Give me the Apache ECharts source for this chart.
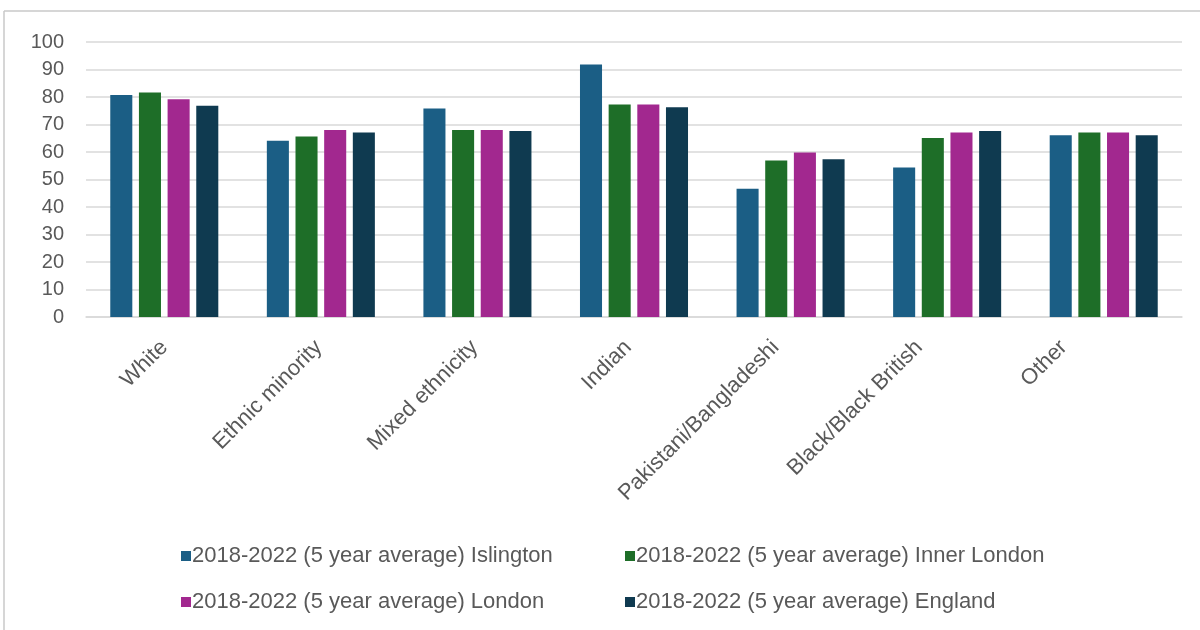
<!DOCTYPE html>
<html>
<head>
<meta charset="utf-8">
<script src="https://cdn.jsdelivr.net/npm/echarts@6/dist/echarts.min.js"></script>
<style>
  html, body { margin: 0; padding: 0; background: #ffffff; }
  #chart { width: 1200px; height: 630px; }
</style>
</head>
<body>
<div id="chart"></div>
<script>
// Ethnic groups along the x axis
const categories = ['White', 'Ethnic minority', 'Mixed ethnicity', 'Indian',
  'Pakistani/Bangladeshi', 'Black/Black British', 'Other'];

// Series names
const seriesNames = [
  '2018-2022 (5 year average) Islington',
  '2018-2022 (5 year average) Inner London',
  '2018-2022 (5 year average) London',
  '2018-2022 (5 year average) England'
];

// Values per area
const islington   = [80.7, 64.1, 75.8, 91.8, 46.6, 54.4, 66.1];
const innerLondon = [81.6, 65.6, 68.0, 77.3, 56.9, 65.1, 67.1];
const london      = [79.2, 68.0, 68.0, 77.3, 59.8, 67.1, 67.1];
const england     = [76.8, 67.1, 67.6, 76.3, 57.4, 67.6, 66.1];

// Y axis ticks
const yMin = 0, yMax = 100, yStep = 10;

const colors = ['#1b5e85', '#1e6e28', '#a2288f', '#0f3a50'];
const seriesValues = [islington, innerLondon, london, england];

const textColor = '#595959';
const fontFamily = '"Liberation Sans", Arial, sans-serif';

// Leftward nudge (px) of each slanted category label from its tick
const labelNudge = [0, 2, 3, 6, 15, 28, 40];
const labelMargin = 27;

const legendText = { color: textColor, fontSize: 22, fontFamily: fontFamily, padding: [0, 0, 0, -4] };

const frameLines = [
  { id: 'frameTop', type: 'line', shape: { x1: 4, y1: 11, x2: 1200, y2: 11 },
    style: { stroke: '#c8c8c8', lineWidth: 1.5 } },
  { id: 'frameLeft', type: 'line', shape: { x1: 4, y1: 11, x2: 4, y2: 630 },
    style: { stroke: '#c8c8c8', lineWidth: 1.5 } }
];

const chart = echarts.init(document.getElementById('chart'));

chart.setOption({
  animation: false,
  backgroundColor: '#ffffff',
  color: colors,
  graphic: frameLines,
  grid: { left: 86, right: 18, top: 42, bottom: 313, containLabel: false },
  legend: [
    {
      data: [seriesNames[0], seriesNames[2]],
      orient: 'vertical',
      left: 176, top: 540,
      itemWidth: 10, itemHeight: 10, itemGap: 24,
      icon: 'rect',
      textStyle: legendText
    },
    {
      data: [seriesNames[1], seriesNames[3]],
      orient: 'vertical',
      left: 620, top: 540,
      itemWidth: 10, itemHeight: 10, itemGap: 24,
      icon: 'rect',
      textStyle: legendText
    }
  ],
  xAxis: {
    type: 'category',
    data: categories,
    axisLine: { show: true, lineStyle: { color: '#d9d9d9', width: 1.5 } },
    axisTick: { show: false },
    axisLabel: { show: false }
  },
  yAxis: {
    type: 'value',
    min: yMin, max: yMax, interval: yStep,
    axisLine: { show: false },
    axisTick: { show: false },
    axisLabel: {
      color: textColor,
      fontSize: 20,
      margin: 22,
      fontFamily: fontFamily
    },
    splitLine: { lineStyle: { color: '#d9d9d9', width: 1.5 } }
  },
  series: seriesNames.map((name, i) => ({
    name: name,
    type: 'bar',
    data: seriesValues[i],
    barGap: '30%',
    barCategoryGap: '31%',
    itemStyle: { color: colors[i] }
  }))
});

// Slanted category labels, anchored at each category's position on the axis
const axisY = chart.convertToPixel({ yAxisIndex: 0 }, yMin);
const categoryLabels = categories.map((c, i) => ({
  id: 'cat' + i,
  type: 'text',
  x: chart.convertToPixel({ xAxisIndex: 0 }, c) - labelNudge[i],
  y: axisY + labelMargin,
  rotation: Math.PI / 4,
  style: {
    text: c,
    fill: textColor,
    fontSize: 22,
    fontFamily: fontFamily,
    align: 'right',
    verticalAlign: 'middle'
  }
}));

chart.setOption({ graphic: frameLines.concat(categoryLabels) });
</script>
</body>
</html>
